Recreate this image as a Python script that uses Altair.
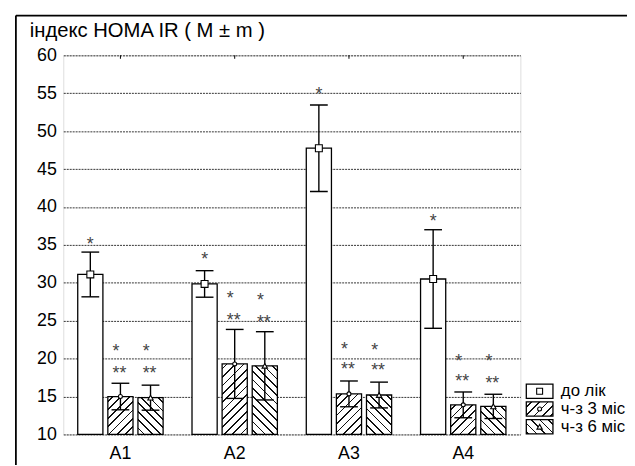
import altair as alt
import pandas as pd

# ---------------- data ----------------
groups = ["A1", "A2", "A3", "A4"]
series = ["до лік", "ч-з 3 міс", "ч-з 6 міс"]

mean_before = [31.1, 29.85, 47.75, 30.5]
mean_3m = [15.0, 19.3, 15.35, 13.9]
mean_6m = [14.85, 19.05, 15.2, 13.7]

se_before = [2.95, 1.75, 5.7, 6.5]
se_3m = [1.75, 4.55, 1.7, 1.7]
se_6m = [1.65, 4.5, 1.7, 1.6]

# positions of significance marks (value of the glyph centre)
star_before = [35.6, 33.7, 55.45, 38.7]
star_3m = [21.5, 28.5, 21.8, 20.2]
star_6m = [21.5, 28.2, 21.6, 20.2]
star2_3m = [18.65, 25.6, 19.2, 17.5]
star2_6m = [18.65, 25.4, 18.95, 17.3]

y_ticks = [10, 15, 20, 25, 30, 35, 40, 45, 50, 55, 60]
title_text = "індекс HOMA IR ( M ± m )"

# ---------------- layout / style ----------------
W, H = 463, 384
Y0, Y1 = 10, 60
PI, PO = 0.164, 0.48
FONT = "Liberation Sans"

rows = []
for s, means, ses, st1, st2 in [
    (series[0], mean_before, se_before, star_before, [None] * 4),
    (series[1], mean_3m, se_3m, star_3m, star2_3m),
    (series[2], mean_6m, se_6m, star_6m, star2_6m),
]:
    for g, m, e, a, b in zip(groups, means, ses, st1, st2):
        rows.append(dict(group=g, series=s, mean=m, lo=m - e, hi=m + e,
                         star1=a, star2=b))
df = pd.DataFrame(rows)

step = (W / len(groups)) / (len(series) - PI + 2 * PO)
BW = step * (1 - PI)
PX_PER_UNIT = H / (Y1 - Y0)


def hatch(w, h, direction, spacing=8.5, lw=1.7, color="#111111"):
    lam = (w + h) / (w * w + h * h)
    if direction == "/":
        x1, y1, x2, y2 = 0, 0, lam * w, lam * h
    else:
        x1, y1, x2, y2 = 1, 0, 1 - lam * w, lam * h
    total = w + h
    stops = [{"offset": 0, "color": "white"}]
    c = spacing * 0.6
    while c < total:
        a = max(0.0, (c - lw / 2) / total)
        b = min(1.0, (c + lw / 2) / total)
        stops += [
            {"offset": a, "color": "white"},
            {"offset": a, "color": color},
            {"offset": b, "color": color},
            {"offset": b, "color": "white"},
        ]
        c += spacing
    stops.append({"offset": 1, "color": "white"})
    return {"gradient": "linear", "x1": x1, "y1": y1, "x2": x2, "y2": y2,
            "stops": stops}


XAX = alt.Axis(labelFontSize=18, labelPadding=10, ticks=False,
               domain=False, labelAngle=0, grid=False, labelFontWeight="normal",
               labelColor="black", labelFont=FONT)
X = alt.X("group:N",
          scale=alt.Scale(domain=groups, paddingInner=0, paddingOuter=0),
          axis=XAX, title=None)
XO = alt.XOffset("series:N",
                 scale=alt.Scale(domain=series, paddingInner=PI, paddingOuter=PO))
YSC = alt.Scale(domain=[Y0, Y1], nice=False, zero=False)
YAX = alt.Axis(values=y_ticks, labelFontSize=18, labelPadding=7, labelFont=FONT,
               labelFontWeight="normal", labelOverlap=False,
               labelColor="black", ticks=False, domain=False, grid=True,
               gridDash=[2, 1], gridColor="#333333", gridWidth=1)


def Y(field):
    return alt.Y(field, scale=YSC, axis=YAX, title=None)


base = alt.Chart(df)
layers = []

# white bars
layers.append(
    base.transform_filter(alt.datum.series == series[0])
    .mark_bar(fill="white", stroke="black", strokeWidth=1.3)
    .encode(x=X, xOffset=XO, y=Y("mean:Q"), y2=alt.datum(Y0))
)

# hatched bars
for s, means, d in [(series[1], mean_3m, "/"), (series[2], mean_6m, "\\")]:
    for g, m in zip(groups, means):
        h = (m - Y0) * PX_PER_UNIT
        layers.append(
            base.transform_filter((alt.datum.series == s) & (alt.datum.group == g))
            .mark_bar(fill=hatch(BW, h, d), stroke="black", strokeWidth=1.3)
            .encode(x=X, xOffset=XO, y=Y("mean:Q"), y2=alt.datum(Y0))
        )

# error bars
layers.append(
    base.mark_rule(color="black", strokeWidth=1.4)
    .encode(x=X, xOffset=XO, y=Y("lo:Q"), y2="hi:Q")
)
for f in ["lo", "hi"]:
    layers.append(
        base.mark_tick(color="black", thickness=1.4, size=18, opacity=1)
        .encode(x=X, xOffset=XO, y=Y(f + ":Q"))
    )

# mean markers
for s, shp, sz in [(series[0], "square", 49), (series[1], "circle", 16),
                   (series[2], "triangle-up", 30)]:
    layers.append(
        base.transform_filter(alt.datum.series == s)
        .mark_point(shape=shp, size=sz, filled=True, fill="white",
                    stroke="black", strokeWidth=1.1, opacity=1)
        .encode(x=X, xOffset=XO, y=Y("mean:Q"))
    )

# significance marks
STAR = dict(font=FONT, fontSize=18, color="#444444", baseline="alphabetic", dy=10)
layers.append(
    base.transform_filter(alt.datum.series == series[0])
    .mark_text(text="*", align="center", **STAR)
    .encode(x=X, xOffset=XO, y=Y("star1:Q"))
)
layers.append(
    base.transform_filter(alt.datum.series != series[0])
    .mark_text(text="*", align="left", dx=-8, **STAR)
    .encode(x=X, xOffset=XO, y=Y("star1:Q"))
)
layers.append(
    base.transform_filter(alt.datum.series != series[0])
    .mark_text(text="**", align="left", dx=-8, **STAR)
    .encode(x=X, xOffset=XO, y=Y("star2:Q"))
)

# top ticks at category centres
layers.append(
    base.transform_filter(alt.datum.series == series[0])
    .mark_rule(color="black", strokeWidth=1)
    .encode(x=X, y=alt.value(0), y2=alt.value(3.5))
)

# legend (drawn by hand because of the hatching)
LX, LX2, LTOP, LSTEP, LH = 469, 496, 333, 18, 14.5
fills = ["white", hatch(LX2 - LX, LH, "/"), hatch(LX2 - LX, LH, "\\")]
shapes = [("square", 36), ("circle", 16), ("triangle-up", 30)]
for i, s in enumerate(series):
    one = alt.Chart(pd.DataFrame({"series": [s]}))
    top = LTOP + i * LSTEP
    layers.append(one.mark_rect(fill=fills[i], stroke="black", strokeWidth=1.3)
                  .encode(x=alt.value(LX), x2=alt.value(LX2),
                          y=alt.value(top), y2=alt.value(top + LH)))
    layers.append(one.mark_point(shape=shapes[i][0], size=shapes[i][1],
                                 filled=True, fill="white", stroke="black",
                                 strokeWidth=1.1, opacity=1)
                  .encode(x=alt.value((LX + LX2) / 2), y=alt.value(top + LH / 2)))
    layers.append(one.mark_text(align="left", baseline="middle", font=FONT,
                                fontSize=17, color="black")
                  .encode(x=alt.value(504), y=alt.value(top + LH / 2),
                          text="series:N"))

# title and outer frame
frame = alt.Chart(pd.DataFrame({"title": [title_text]}))
layers.append(frame.mark_text(align="left", baseline="alphabetic", font=FONT,
                              fontSize=20.5, color="black")
              .encode(x=alt.value(-34), y=alt.value(-19), text="title:N"))
layers.append(frame.mark_rule(color="black", strokeWidth=1.8)
              .encode(x=alt.value(-48), x2=alt.value(600),
                      y=alt.value(-40.3)))
layers.append(frame.mark_rule(color="black", strokeWidth=1.8)
              .encode(x=alt.value(-48), y=alt.value(-40.3), y2=alt.value(430)))

chart = (
    alt.layer(*layers)
    .properties(width=W, height=H,
                autosize=alt.AutoSizeParams(type="none"),
                padding={"left": 56, "top": 45, "right": 108, "bottom": 28},
                background="white")
    .configure_view(stroke="black", strokeWidth=1.3)
    .configure(font=FONT)
)

chart.save("out.html", embed_options={"renderer": "svg", "actions": False})
